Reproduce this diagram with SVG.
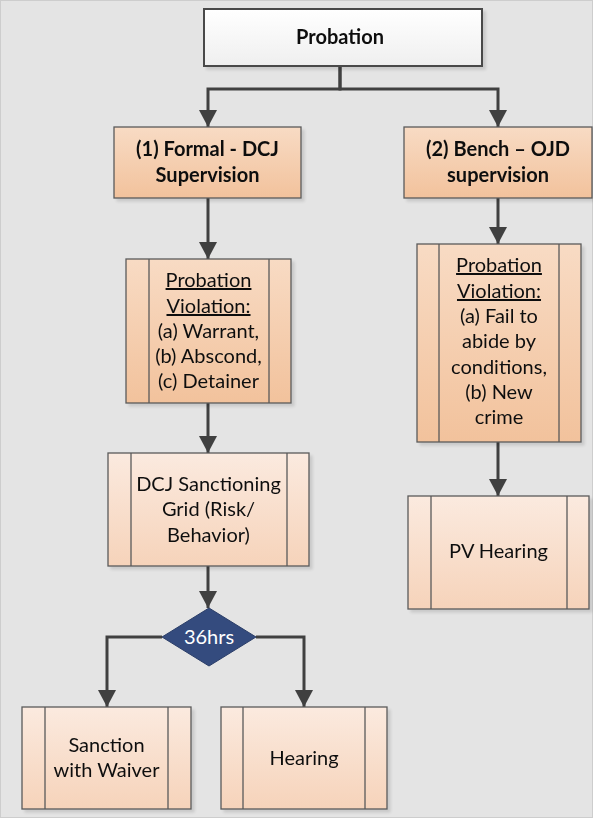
<svg xmlns="http://www.w3.org/2000/svg" width="593" height="818" viewBox="0 0 593 818">
  <defs>
    <linearGradient id="gTop" x1="0" y1="0" x2="0" y2="1">
      <stop offset="0" stop-color="#ffffff"/>
      <stop offset="1" stop-color="#efefef"/>
    </linearGradient>
    <linearGradient id="gDark" x1="0" y1="0" x2="0" y2="1">
      <stop offset="0" stop-color="#f8dbc4"/>
      <stop offset="1" stop-color="#f2c29c"/>
    </linearGradient>
    <linearGradient id="gLight" x1="0" y1="0" x2="0" y2="1">
      <stop offset="0" stop-color="#fbeadf"/>
      <stop offset="1" stop-color="#f6d3ba"/>
    </linearGradient>
    <filter id="shadow" x="-10%" y="-10%" width="130%" height="130%">
      <feGaussianBlur in="SourceAlpha" stdDeviation="1.5"/>
      <feOffset dx="3" dy="3" result="b"/>
      <feComponentTransfer><feFuncA type="linear" slope="0.12"/></feComponentTransfer>
      <feMerge><feMergeNode/><feMergeNode in="SourceGraphic"/></feMerge>
    </filter>
    <marker id="arrow" markerUnits="userSpaceOnUse" markerWidth="18" markerHeight="18" refX="17" refY="9" orient="auto">
      <path d="M0,0 L17,9 L0,18 z" fill="#404040"/>
    </marker>
  </defs>
  <style>
    .box { stroke: #5a5a5a; stroke-width: 1.3; }
    .div { stroke: #5a5a5a; stroke-width: 1.3; fill: none; }
    .dark { fill: url(#gDark); }
    .light { fill: url(#gLight); }
    text { font-family: Lato, "Liberation Sans", sans-serif; font-size: 20px; fill: #111111; text-anchor: middle; }
    .b { font-weight: bold; }
    .u { text-decoration: underline; }
    .conn { fill: none; stroke: #404040; stroke-width: 3; marker-end: url(#arrow); }
  </style>

  <!-- page background -->
  <rect x="0.5" y="0.5" width="592" height="817" fill="#e4e4e4" stroke="#cdcdcd" stroke-width="1"/>

  <!-- connectors -->
  <g id="connectors">
    <path class="conn" d="M340,66 V89 H208 V127"/>
    <path class="conn" d="M340,66 V89 H498 V127"/>
    <path class="conn" d="M208,198 V259"/>
    <path class="conn" d="M498,198 V244"/>
    <path class="conn" d="M208,403 V453"/>
    <path class="conn" d="M498,442 V496"/>
    <path class="conn" d="M208,566 V608"/>
    <path class="conn" d="M162,637 H107 V707"/>
    <path class="conn" d="M256,637 H304 V707"/>
  </g>

  <!-- Probation -->
  <g id="probation" filter="url(#shadow)">
    <rect x="204" y="9" width="278" height="57" fill="url(#gTop)" stroke="#4a4a4a" stroke-width="2"/>
    <text class="b" x="340" y="44">Probation</text>
  </g>

  <!-- (1) Formal - DCJ Supervision -->
  <g id="formal" filter="url(#shadow)">
    <rect class="box dark" x="114" y="127" width="187" height="71"/>
    <text class="b" x="207.5" y="156">(1) Formal - DCJ</text>
    <text class="b" x="207.5" y="182">Supervision</text>
  </g>

  <!-- (2) Bench - OJD supervision -->
  <g id="bench" filter="url(#shadow)">
    <rect class="box dark" x="404" y="127" width="188" height="71"/>
    <text class="b" x="498" y="156">(2) Bench – OJD</text>
    <text class="b" x="498" y="182">supervision</text>
  </g>

  <!-- Probation violation (formal) -->
  <g id="violation-formal" filter="url(#shadow)">
    <rect class="box dark" x="126" y="259" width="165" height="144"/>
    <path class="div" d="M149,259 V403 M269,259 V403"/>
    <text class="u" x="208.5" y="287">Probation</text>
    <text class="u" x="208.5" y="313">Violation:</text>
    <text x="208.5" y="338">(a) Warrant,</text>
    <text x="208.5" y="363">(b) Abscond,</text>
    <text x="208.5" y="388">(c) Detainer</text>
  </g>

  <!-- Probation violation (bench) -->
  <g id="violation-bench" filter="url(#shadow)">
    <rect class="box dark" x="417" y="244" width="164" height="198"/>
    <path class="div" d="M439,244 V442 M559,244 V442"/>
    <text class="u" x="499" y="272">Probation</text>
    <text class="u" x="499" y="298">Violation:</text>
    <text x="499" y="323">(a) Fail to</text>
    <text x="499" y="348">abide by</text>
    <text x="499" y="374">conditions,</text>
    <text x="499" y="399">(b) New</text>
    <text x="499" y="424">crime</text>
  </g>

  <!-- DCJ Sanctioning Grid -->
  <g id="grid" filter="url(#shadow)">
    <rect class="box light" x="108" y="453" width="201" height="113"/>
    <path class="div" d="M131,453 V566 M287,453 V566"/>
    <text x="208.5" y="491">DCJ Sanctioning</text>
    <text x="208.5" y="516">Grid (Risk/</text>
    <text x="208.5" y="542">Behavior)</text>
  </g>

  <!-- PV Hearing -->
  <g id="pv-hearing" filter="url(#shadow)">
    <rect class="box light" x="408" y="496" width="181" height="113"/>
    <path class="div" d="M431,496 V609 M567,496 V609"/>
    <text x="498.5" y="558">PV Hearing</text>
  </g>

  <!-- 36hrs decision -->
  <g id="decision">
    <polygon points="209,608 256,637 209,666 162,637" fill="#344b7e" stroke="#2b3e68" stroke-width="1"/>
    <text x="209" y="644" style="fill:#ffffff">36hrs</text>
  </g>

  <!-- Sanction with Waiver -->
  <g id="sanction" filter="url(#shadow)">
    <rect class="box light" x="22" y="707" width="169" height="102"/>
    <path class="div" d="M45,707 V809 M168,707 V809"/>
    <text x="106.5" y="752">Sanction</text>
    <text x="106.5" y="777">with Waiver</text>
  </g>

  <!-- Hearing -->
  <g id="hearing" filter="url(#shadow)">
    <rect class="box light" x="221" y="707" width="166" height="102"/>
    <path class="div" d="M243,707 V809 M365,707 V809"/>
    <text x="304" y="765">Hearing</text>
  </g>
</svg>
